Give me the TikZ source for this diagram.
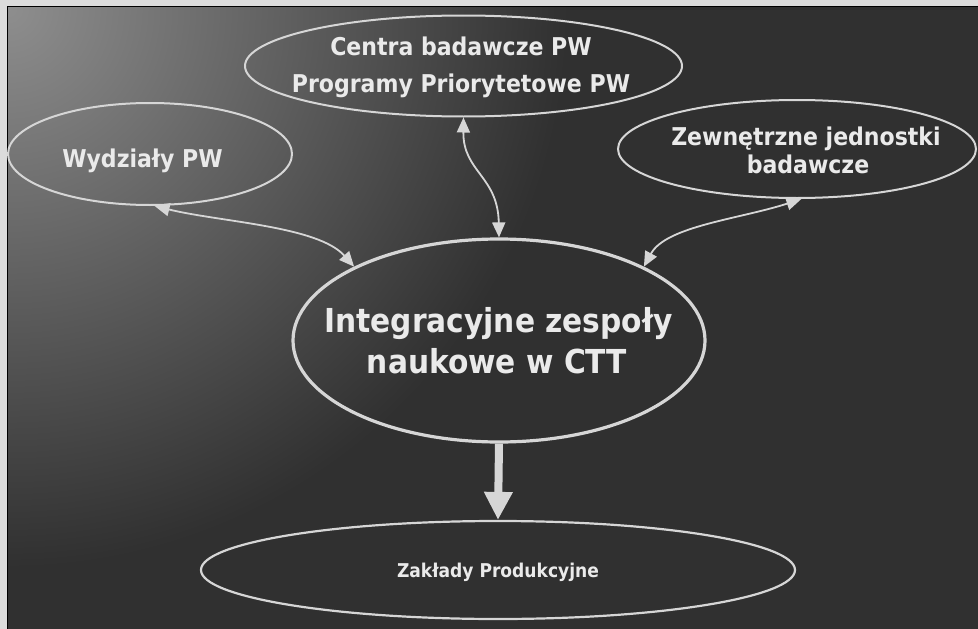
\documentclass[tikz,border=0pt]{standalone}
\usepackage{fontspec}
\setmainfont{DejaVu Sans Condensed}
\usetikzlibrary{shapes.geometric,arrows.meta}
\definecolor{bgdark}{HTML}{303030}
\definecolor{glow}{HTML}{8E8E8E}
\definecolor{framec}{HTML}{DCDCDC}
\definecolor{linec}{HTML}{D6D6D6}
\definecolor{textc}{HTML}{EAEAEA}
\begin{document}
\begin{tikzpicture}[x=1pt,y=-1pt,
  oval/.style={ellipse, draw=linec, line width=2pt, inner sep=0pt},
  lbl/.style={anchor=base, text=textc, inner sep=0pt, font=\bfseries\fontsize{24.5}{30}\selectfont},
  biglbl/.style={anchor=base, text=textc, inner sep=0pt, font=\bfseries\fontsize{33}{40}\selectfont},
  link/.style={draw=linec, line width=1.8pt, {Triangle[width=13pt,length=15pt]}-{Triangle[width=13pt,length=15pt]}}]
\useasboundingbox (0,0) rectangle (978,629);
% frame and background
\fill[framec] (0,0) rectangle (978,629);
\begin{scope}
  \clip (7.5,6.5) rectangle (978,629);
  \fill[bgdark] (7.5,6.5) rectangle (978,629);
  \shade[inner color=glow, outer color=bgdark] (8,8) circle[radius=560pt];
\end{scope}
\draw[black, line width=1.6pt] (7.5,629) -- (7.5,6.5) -- (978,6.5);
% ellipses
\node[oval, minimum width=437pt, minimum height=101pt] (cen) at (463.5,66) {};
\node[oval, minimum width=284pt, minimum height=102pt] (wyd) at (150,154) {};
\node[oval, minimum width=358pt, minimum height=98pt] (zew) at (797,149) {};
\node[oval, line width=3.2pt, minimum width=412pt, minimum height=203pt] (ctr) at (499,340.5) {};
\node[oval, line width=2.2pt, minimum width=594pt, minimum height=98pt] (bot) at (498,570) {};
% texts
\node[lbl] (cen1) at (461,55) {Centra badawcze PW};
\node[lbl] (cen2) at (461,92) {Programy Priorytetowe PW};
\node[lbl] (wydt) at (142.5,167) {Wydziały PW};
\node[lbl] (zew1) at (806,145) {Zewnętrzne jednostki};
\node[lbl] (zew2) at (808,173) {badawcze};
\node[biglbl] (ctr1) at (498.5,332) {Integracyjne zespoły};
\node[biglbl] (ctr2) at (497,373) {naukowe w CTT};
\node[lbl, font=\bfseries\fontsize{19}{24}\selectfont] (bott) at (498,577) {Zakłady Produkcyjne};
% connectors
\draw[link] (wyd.-85) .. controls (220,222) and (318,226) .. (ctr.153);
\draw[link] (cen.south) .. controls (463,172) and (498,176) .. (ctr.north);
\draw[link] (zew.-85) .. controls (740,219) and (666,226) .. (ctr.27);
\draw[draw=linec, line width=8pt, -{Triangle[width=27pt,length=28pt]}] (ctr.south) -- (bot.north);
\end{tikzpicture}
\end{document}
